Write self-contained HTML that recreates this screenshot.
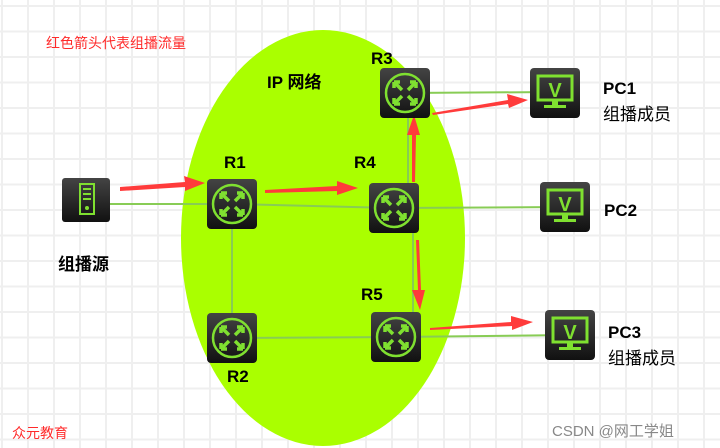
<!DOCTYPE html>
<html><head><meta charset="utf-8"><style>
body{margin:0;width:720px;height:448px;overflow:hidden;background:#fff;
background-image:linear-gradient(#efefef 2px,transparent 2px),linear-gradient(90deg,#efefef 2px,transparent 2px);background-size:26px 25.5px;background-position:1px 5px;}
svg{position:absolute;left:0;top:0}
</style></head><body>
<svg width="720" height="448" xmlns="http://www.w3.org/2000/svg" font-family="Liberation Sans, Noto Sans CJK SC, sans-serif">
<defs>
<linearGradient id="g" x1="0" y1="0" x2="0" y2="1"><stop offset="0" stop-color="#444"/><stop offset="1" stop-color="#111"/></linearGradient>
<g id="rt"><rect x="-25" y="-25" width="50" height="50" rx="4" fill="url(#g)"/><circle r="19" fill="none" stroke="#7fe030" stroke-width="2.5"/>
<path d="M-11-11l8 8M11-11l-8 8M-11 11l8-8M11 11l-8-8M-11-11h6M-11-11v6M11-11h-6M11-11v6M-11 11h6M-11 11v-6M11 11h-6M11 11v-6" stroke="#7fe030" stroke-width="3.5" fill="none"/></g>
<g id="pc"><rect x="-25" y="-25" width="50" height="50" rx="4" fill="url(#g)"/><rect x="-17" y="-17" width="34" height="24" fill="none" stroke="#7fe030" stroke-width="3"/><text x="0" y="4" font-size="20" font-weight="bold" fill="#7fe030" text-anchor="middle">V</text><rect x="-3" y="8" width="6" height="5" fill="#7fe030"/><rect x="-11" y="12" width="22" height="3" fill="#7fe030"/></g>
</defs>
<ellipse cx="323" cy="238" rx="142" ry="208" fill="#aaff00"/>
<g stroke="#88cc55" stroke-width="2">
<line x1="110" y1="204" x2="232" y2="204"/><line x1="232" y1="204" x2="394" y2="208"/>
<line x1="232" y1="204" x2="232" y2="338"/><line x1="232" y1="338" x2="396" y2="337"/>
<line x1="394" y1="208" x2="565" y2="207"/><line x1="405" y1="93" x2="555" y2="92"/>
<line x1="408" y1="93" x2="408" y2="208"/><line x1="413" y1="208" x2="413" y2="337"/>
<line x1="396" y1="337" x2="570" y2="335"/>
</g>
<g fill="#ff3b3b">
<polygon points="120,187 185,182 184,176 205,183 185,191 185,187 120,191"/>
<polygon points="265,190 337,186 337,181 358,188 337,195 337,191 265,193"/>
<polygon points="412,182 412,135 407,135 414,115 420,135 416,135 415,182"/>
<polygon points="432,113 508,100 507,94 528,100 509,108 508,104 433,115"/>
<polygon points="416,240 418,290 412,290 420,310 425,290 421,290 419,240"/>
<polygon points="430,328 511,322 511,316 533,322 512,330 512,326 430,330"/>
</g>
<g transform="translate(86,200)"><rect x="-24" y="-22" width="48" height="44" rx="3" fill="url(#g)"/><rect x="-6" y="-16" width="14" height="30" fill="none" stroke="#7fe030" stroke-width="2"/><path d="M-3-11h8M-3-6h8M-3-1h8" stroke="#7fe030" stroke-width="2"/><circle cx="1" cy="8" r="2" fill="#7fe030"/></g>
<use href="#rt" x="232" y="204"/><use href="#rt" x="405" y="93"/><use href="#rt" x="394" y="208"/><use href="#rt" x="232" y="338"/><use href="#rt" x="396" y="337"/>
<use href="#pc" x="555" y="93"/><use href="#pc" x="565" y="207"/><use href="#pc" x="570" y="335"/>
<g font-weight="bold" font-size="17" fill="#000">
<text x="224" y="168">R1</text><text x="371" y="64">R3</text><text x="354" y="168">R4</text><text x="361" y="300">R5</text><text x="227" y="382">R2</text>
<text x="267" y="88">IP 网络</text>
<text x="603" y="94">PC1</text><text x="604" y="216">PC2</text><text x="608" y="338">PC3</text>
<text x="58" y="270">组播源</text>
</g>
<g font-size="17" fill="#000"><text x="603" y="120">组播成员</text><text x="608" y="364">组播成员</text></g>
<text x="46" y="48" font-size="14" fill="#ff2a2a">红色箭头代表组播流量</text>
<text x="12" y="438" font-size="14" fill="#ff2a2a">众元教育</text>
<text x="552" y="436" font-size="15" fill="#888">CSDN @网工学姐</text>
</svg>
</body></html>
